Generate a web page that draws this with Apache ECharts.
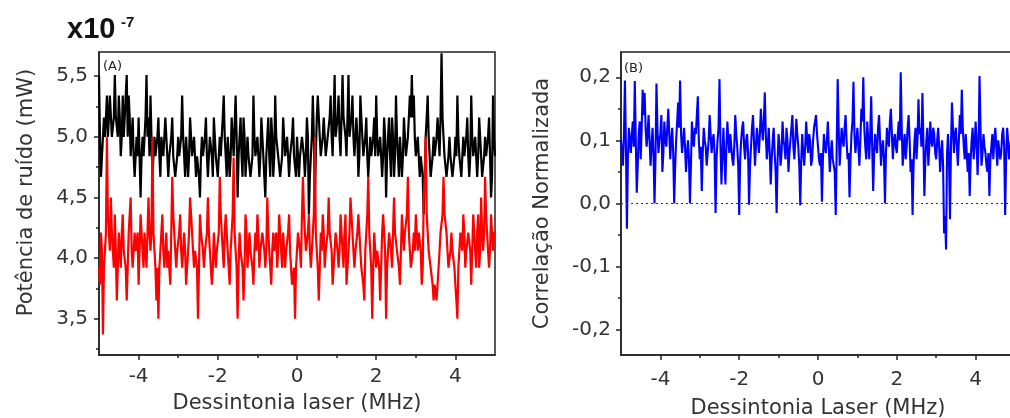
<!DOCTYPE html>
<html>
<head>
<meta charset="utf-8">
<script src="https://cdn.jsdelivr.net/npm/echarts@6/dist/echarts.min.js"></script>
<style>
html,body{margin:0;padding:0;background:#fff;}
#chart{width:1010px;height:418px;}
</style>
</head>
<body>
<div id="chart"></div>
<script>
// Detuning scan range (MHz); samples are evenly spread over it
const X_MIN = -5, X_MAX = 5;

// Panel A: noise power (x10^-7 mW), black trace
const blackNoise = [
 5.51,5.0,4.67,4.84,4.84,5.16,5.0,5.16,5.34,5.0,5.16,5.34,5.34,5.0,5.0,5.16,5.51,5.16,5.16,5.0,5.34,5.16,4.84,5.0,5.34,5.0,5.16,5.34,5.51,5.0,5.34,5.16,4.84,5.0,5.16,4.84,4.67,4.84,5.0,4.84,
 5.16,4.84,4.5,4.84,5.0,4.84,4.84,5.16,5.51,5.0,5.16,4.84,5.34,5.0,4.67,4.84,5.0,4.84,4.84,5.0,5.16,4.84,4.67,5.0,5.0,4.84,4.84,5.16,5.16,4.84,4.67,4.84,4.84,5.0,5.16,4.84,4.84,4.67,4.67,4.84,
 5.0,4.84,4.84,5.0,5.34,5.0,4.84,4.67,5.0,4.84,4.67,4.84,5.16,5.0,4.84,4.84,5.0,4.84,4.67,4.84,4.84,4.67,4.5,4.84,5.0,4.84,4.84,5.0,5.16,4.84,4.67,4.84,5.0,5.0,4.84,4.67,5.16,5.0,4.84,4.84,
 4.67,4.84,5.0,4.84,4.84,5.16,5.34,5.0,4.84,4.67,5.0,4.84,4.67,4.84,5.16,5.0,4.84,4.84,5.34,5.0,4.5,4.84,5.0,5.16,4.84,4.67,5.16,5.0,4.67,4.84,5.0,4.84,4.84,4.67,4.67,4.84,5.34,5.0,4.84,4.84,
 5.0,4.84,4.67,4.84,5.16,5.0,4.84,4.67,4.5,4.84,5.0,5.16,4.84,4.67,5.16,5.0,4.67,4.84,5.34,5.0,5.0,4.84,4.84,4.67,4.67,4.84,5.16,5.0,4.84,4.84,5.0,4.84,4.67,4.84,4.84,5.0,5.16,4.84,4.84,4.67,
 5.0,4.84,4.67,4.84,4.84,5.0,5.0,4.84,4.67,4.84,5.16,5.0,4.36,4.67,4.84,5.0,5.34,5.0,4.5,4.84,5.16,5.34,5.34,5.0,4.84,4.84,5.0,5.16,5.16,4.84,4.84,5.0,5.0,5.16,5.34,5.0,4.84,5.16,5.51,5.0,
 5.0,5.16,5.34,5.0,4.84,5.16,5.51,5.16,5.16,5.0,4.84,5.16,5.51,5.0,5.0,5.16,5.34,5.0,4.84,4.84,5.16,5.0,4.67,4.84,5.34,5.16,5.0,4.84,4.84,5.0,5.16,4.84,4.67,4.84,5.0,4.84,4.84,5.0,5.16,4.84,
 5.34,5.0,4.84,4.84,5.0,4.84,4.67,4.84,5.16,5.0,4.5,4.84,5.0,5.16,4.84,4.67,5.16,5.0,4.67,4.84,5.34,5.0,4.84,4.67,5.0,4.84,4.67,4.84,5.16,5.0,4.84,4.84,5.0,5.16,5.34,5.16,5.51,5.16,5.34,5.0,
 4.84,4.84,5.0,4.84,4.67,4.84,4.84,4.67,4.36,4.67,5.0,5.16,5.34,5.0,4.84,4.67,4.67,4.84,5.0,4.84,4.84,5.0,5.16,5.0,4.84,5.16,5.69,5.16,5.0,4.84,4.84,4.67,4.67,4.84,5.0,4.84,4.84,4.67,4.67,4.84,
 5.0,4.84,5.34,5.0,4.84,4.84,4.67,4.84,5.0,4.84,4.84,5.0,5.16,4.84,4.67,4.84,5.34,5.0,4.84,4.84,5.0,4.84,4.67,4.84,5.16,5.0,4.84,4.67,4.67,4.84,5.0,4.84,4.84,5.0,5.16,4.84,4.5,4.67,5.34,5.0,
 4.84
];
// Panel A: noise power (x10^-7 mW), red trace
const redNoise = [
 3.92,3.78,4.21,4.06,3.37,3.92,4.06,4.21,5.0,4.36,4.21,4.06,4.5,4.21,4.06,3.92,4.36,4.06,3.65,3.92,4.21,4.06,3.92,4.21,4.36,4.06,4.06,3.92,3.65,3.92,4.21,4.36,4.5,4.06,3.92,4.06,4.21,4.06,4.06,4.21,
 3.78,4.06,4.36,4.21,4.06,3.92,4.21,4.06,3.92,4.21,4.5,4.21,4.06,4.21,5.0,4.21,4.21,3.92,3.65,3.92,3.5,3.92,4.06,4.21,4.36,4.06,3.92,4.06,4.21,3.92,4.06,3.92,3.78,4.21,4.67,4.36,4.21,4.06,3.92,4.06,
 4.06,4.21,4.36,4.06,3.92,4.06,4.21,4.06,3.78,3.92,4.06,4.21,4.5,4.36,4.21,4.06,3.92,4.06,4.06,3.92,3.5,3.92,4.36,4.21,4.21,4.06,3.92,4.06,4.06,4.21,4.5,4.21,4.06,3.92,3.78,3.92,4.21,4.06,3.92,4.06,
 4.06,4.21,4.67,4.36,4.21,4.06,3.92,4.21,4.36,4.21,4.06,3.92,3.78,4.06,4.21,4.36,4.83,4.21,4.06,3.92,3.5,3.92,4.21,4.06,4.06,3.92,3.65,3.92,4.36,4.21,3.92,4.06,4.21,4.06,4.06,3.92,3.78,4.06,4.21,4.06,
 4.36,4.21,3.92,4.06,4.06,4.21,4.21,4.06,3.92,4.06,4.5,4.21,4.06,3.92,3.78,4.06,4.21,4.06,4.06,4.21,3.92,4.06,4.36,4.21,4.06,3.92,4.21,4.06,3.92,4.06,4.06,4.21,4.36,4.06,3.92,3.78,3.78,3.92,3.5,3.92,
 4.06,4.21,4.21,4.06,3.92,4.36,4.67,4.36,4.21,4.06,4.06,4.21,4.36,4.06,3.92,4.06,4.21,4.36,5.0,4.21,4.06,3.92,3.65,3.92,4.21,4.06,4.36,4.21,3.92,4.06,4.06,4.21,4.5,4.21,4.21,4.06,3.78,3.92,4.06,4.21,
 4.21,4.06,3.92,4.06,4.36,4.21,4.06,3.92,4.21,4.36,3.78,3.92,4.06,4.21,4.5,4.36,4.21,4.06,3.92,4.06,4.06,4.21,4.36,4.21,4.06,3.92,3.92,3.78,3.65,4.06,4.21,4.36,4.67,4.21,4.06,3.92,3.5,3.92,4.21,4.06,
 3.92,4.06,4.06,3.92,3.65,3.92,4.21,4.36,4.36,4.06,3.5,3.92,4.06,4.21,4.21,4.06,3.92,4.21,4.5,4.21,4.21,4.06,4.06,3.92,3.78,4.06,4.36,4.21,4.06,4.21,4.21,4.36,4.67,4.21,4.06,3.92,3.92,4.06,4.21,4.06,
 4.36,4.21,4.06,4.21,4.21,4.06,3.78,3.92,4.5,4.67,5.0,4.36,4.21,4.06,4.06,3.92,3.92,3.78,3.65,3.78,3.78,3.65,3.65,3.92,4.06,4.21,4.21,4.36,4.67,4.36,4.36,4.21,4.06,3.92,3.92,4.06,4.21,4.06,4.06,3.92,
 3.78,3.65,3.5,3.92,4.06,4.21,4.21,4.06,4.36,4.21,3.92,4.06,4.06,4.21,4.21,4.06,3.78,4.06,4.36,4.21,4.06,3.92,4.21,4.36,3.92,4.06,4.5,4.21,4.06,4.21,4.67,4.36,4.21,4.06,3.92,4.06,4.36,4.21,4.06,4.21,
 4.21
];

// Panel B: normalized correlation (blue trace)
const blueCorr = [
 0.10,0.08,0.06,0.11,0.195,0.09,-0.04,0.07,0.12,0.10,0.08,0.11,0.13,0.09,0.194,0.10,0.017,0.06,0.11,0.13,0.07,0.12,0.18,0.14,0.175,0.12,0.09,0.11,0.14,0.10,0.06,0.09,0.12,0.08,0.0,0.07,0.19,0.12,0.08,0.10,
 0.11,0.14,0.05,0.08,0.13,0.10,0.09,0.12,0.15,0.11,0.07,0.10,0.12,0.08,0.0,0.06,0.10,0.13,0.16,0.12,0.195,0.11,0.08,0.10,0.12,0.09,0.05,0.08,0.10,0.07,0.0,0.06,0.13,0.10,0.09,0.12,0.11,0.14,0.17,0.10,
 0.07,0.09,0.02,0.08,0.12,0.10,0.09,0.06,0.06,0.10,0.14,0.11,0.08,0.10,0.11,0.08,-0.015,0.07,0.10,0.12,0.197,0.09,0.03,0.08,0.12,0.07,0.03,0.09,0.13,0.10,0.08,0.11,0.11,0.07,0.06,0.09,0.14,0.11,0.09,0.06,
 -0.018,0.07,0.10,0.12,0.13,0.09,0.07,0.10,0.11,0.08,-0.002,0.06,0.09,0.12,0.14,0.10,0.06,0.09,0.12,0.10,0.08,0.11,0.15,0.12,0.10,0.13,0.176,0.11,0.07,0.09,0.12,0.08,0.03,0.07,0.10,0.12,0.08,0.05,-0.015,0.07,
 0.11,0.09,0.06,0.08,0.13,0.10,0.09,0.07,0.12,0.10,0.05,0.08,0.10,0.12,0.14,0.09,0.07,0.10,0.134,0.11,0.09,0.06,-0.003,0.07,0.11,0.08,0.06,0.09,0.13,0.10,0.08,0.11,0.10,0.06,0.07,0.10,0.12,0.13,0.14,0.11,
 0.09,0.07,0.06,0.08,0.003,0.07,0.11,0.09,0.08,0.10,0.13,0.09,0.05,0.08,0.10,0.07,0.07,0.05,-0.018,0.09,0.197,0.12,0.06,0.09,0.12,0.10,0.09,0.12,0.14,0.10,0.07,0.08,0.01,0.07,0.11,0.13,0.193,0.11,0.08,0.10,
 0.12,0.09,0.06,0.10,0.15,0.13,0.20,0.12,0.09,0.07,0.13,0.10,0.07,0.11,0.17,0.09,0.02,0.08,0.11,0.09,0.08,0.12,0.14,0.10,0.06,0.09,0.10,0.07,0.0,0.08,0.12,0.10,0.09,0.13,0.15,0.11,0.07,0.10,0.11,0.09,
 0.08,0.11,0.13,0.10,0.208,0.12,0.06,0.09,0.11,0.07,0.09,0.12,0.14,0.10,0.05,0.07,-0.018,0.06,0.10,0.12,0.07,0.10,0.165,0.11,0.12,0.09,0.175,0.10,0.012,0.07,0.10,0.12,0.06,0.09,0.13,0.10,0.09,0.12,0.11,0.08,
 0.07,0.10,0.12,0.09,0.05,0.08,0.10,0.06,-0.047,-0.02,-0.073,0.08,0.11,0.07,-0.025,0.09,0.16,0.12,0.08,0.11,0.12,0.09,0.06,0.10,0.14,0.11,0.18,0.12,0.09,0.07,0.11,0.08,0.05,0.08,0.012,0.07,0.10,0.12,0.07,0.09,
 0.13,0.10,0.045,0.09,0.202,0.12,0.06,0.08,0.11,0.09,0.08,0.06,0.05,0.08,0.012,0.07,0.09,0.11,0.07,0.10,0.12,0.09,0.06,0.10,0.10,0.07,0.08,0.11,0.12,0.09,-0.018,0.07,0.12,0.10,0.07,0.09,0.10,0.12,0.08,0.10,
 0.11
];

// Tick values
const xTicks = [-4, -2, 0, 2, 4];
const xMinorTicks = [-3, -1, 1, 3];
const yTicksA = [3.5, 4.0, 4.5, 5.0, 5.5];
const yMinorA = [3.25, 3.75, 4.25, 4.75, 5.25];
const yTicksB = [-0.2, -0.1, 0.0, 0.1, 0.2];
const yMinorB = [-0.15, -0.05, 0.05, 0.15];

function pairs(arr) {
  const step = (X_MAX - X_MIN) / (arr.length - 1);
  return arr.map((v, i) => [X_MIN + i * step, v]);
}

const FONT = 'DejaVu Sans';
const AX = '#222';
const labelStyle = { color: '#333', fontSize: 20, fontFamily: FONT };
const nameStyle = { color: '#333', fontSize: 21, fontFamily: FONT };
const fmt1 = v => v.toFixed(1).replace('.', ',');

function majorX(grid, name, gap, margin) {
  return {
    gridIndex: grid, type: 'value', min: -5, max: 5, position: 'bottom',
    axisLine: { show: true, onZero: false, lineStyle: { color: AX, width: 1.5 } },
    axisTick: { show: true, customValues: xTicks, length: 5, lineStyle: { color: AX, width: 1.5 } },
    axisLabel: { customValues: xTicks, margin: margin, formatter: v => String(v), ...labelStyle },
    splitLine: { show: false },
    name: name, nameLocation: 'middle', nameGap: gap, nameTextStyle: nameStyle
  };
}
function minorX(grid) {
  return {
    gridIndex: grid, type: 'value', min: -5, max: 5, position: 'bottom',
    axisLine: { show: false, onZero: false },
    axisTick: { show: true, customValues: xMinorTicks, length: 3, lineStyle: { color: AX, width: 1.5 } },
    axisLabel: { show: false }, splitLine: { show: false }
  };
}
function majorY(grid, min, max, ticks, name, gap, margin, pad) {
  return {
    gridIndex: grid, type: 'value', min: min, max: max, position: 'left',
    axisLine: { show: true, onZero: false, lineStyle: { color: AX, width: 1.5 } },
    axisTick: { show: true, customValues: ticks, length: 5, lineStyle: { color: AX, width: 1.5 } },
    axisLabel: { customValues: ticks, margin: margin, formatter: fmt1, ...labelStyle },
    splitLine: { show: false },
    name: name, nameLocation: 'middle', nameGap: gap, nameTextStyle: { ...nameStyle, padding: pad }
  };
}
function minorY(grid, min, max, ticks) {
  return {
    gridIndex: grid, type: 'value', min: min, max: max, position: 'left',
    axisLine: { show: false, onZero: false },
    axisTick: { show: true, customValues: ticks, length: 3, lineStyle: { color: AX, width: 1.5 } },
    axisLabel: { show: false }, splitLine: { show: false }
  };
}

const chart = echarts.init(document.getElementById('chart'), null, { renderer: 'canvas' });
chart.setOption({
  backgroundColor: '#fff',
  animation: false,
  grid: [
    { left: 99, top: 52, width: 396, height: 303, outerBoundsMode: 'none', containLabel: false,
      show: true, borderColor: AX, borderWidth: 1.5, backgroundColor: 'transparent' },
    { left: 621, top: 52, width: 394, height: 303, outerBoundsMode: 'none', containLabel: false,
      show: true, borderColor: AX, borderWidth: 1.5, backgroundColor: 'transparent' }
  ],
  xAxis: [
    majorX(0, 'Dessintonia laser (MHz)', 38, 12),
    minorX(0),
    majorX(1, 'Dessintonia Laser (MHz)', 43, 15),
    minorX(1)
  ],
  yAxis: [
    majorY(0, 3.2, 5.7, yTicksA, 'Potência de ruído (mW)', 62, 11, [0, 0, 0, 22]),
    minorY(0, 3.2, 5.7, yMinorA),
    majorY(1, -0.24, 0.24, yTicksB, 'Correlação Normalizada', 68, 10, 0),
    minorY(1, -0.24, 0.24, yMinorB)
  ],
  graphic: [
    { type: 'text', left: 67, top: 15, style: { text: 'x10', font: 'bold 29px "Liberation Sans"', fill: '#111' } },
    { type: 'text', left: 121, top: 15, style: { text: '-7', font: 'bold 15px "Liberation Sans"', fill: '#111' } },
    { type: 'text', left: 103, top: 60, style: { text: '(A)', font: '13px "DejaVu Sans"', fill: '#222' } },
    { type: 'text', left: 624, top: 62, style: { text: '(B)', font: '13px "DejaVu Sans"', fill: '#222' } }
  ],
  series: [
    { type: 'line', xAxisIndex: 0, yAxisIndex: 0, data: pairs(blackNoise), showSymbol: false, symbol: 'none',
      sampling: undefined, progressive: 0, lineStyle: { color: '#000', width: 2.2 }, silent: true },
    { type: 'line', xAxisIndex: 0, yAxisIndex: 0, data: pairs(redNoise), showSymbol: false, symbol: 'none',
      sampling: undefined, progressive: 0, lineStyle: { color: '#ff0000', width: 2.2 }, silent: true },
    { type: 'line', xAxisIndex: 2, yAxisIndex: 2, data: pairs(blueCorr), showSymbol: false, symbol: 'none',
      sampling: undefined, progressive: 0, lineStyle: { color: '#0000ff', width: 2.1 }, silent: true,
      markLine: { silent: true, symbol: 'none', label: { show: false },
        lineStyle: { color: '#333', type: [2, 3], width: 1.2 },
        data: [{ yAxis: 0 }] } }
  ]
});
</script>
</body>
</html>
